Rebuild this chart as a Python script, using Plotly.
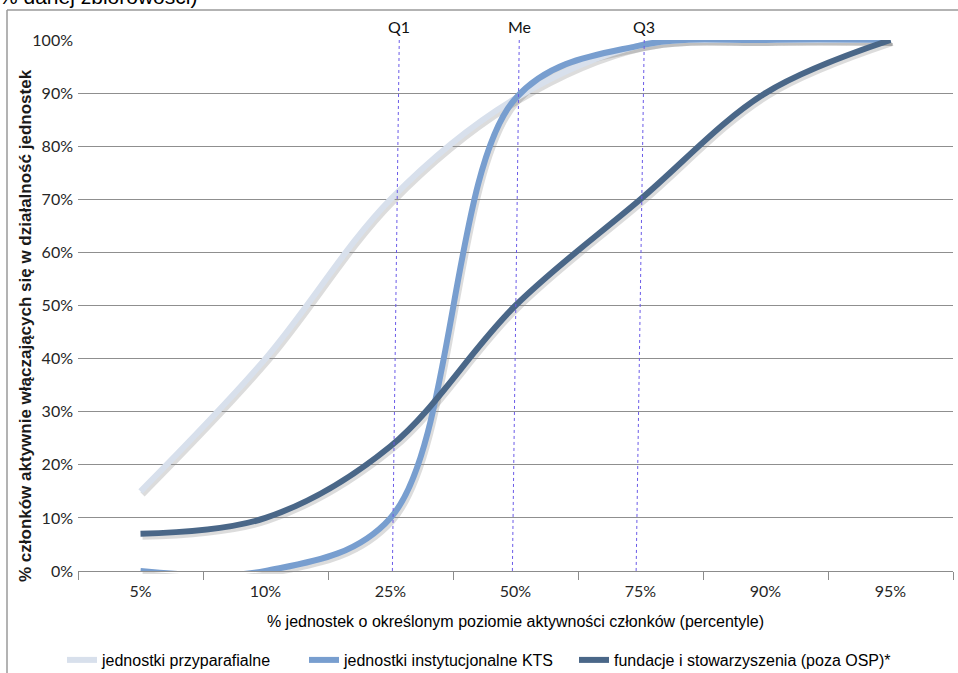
import plotly.graph_objects as go

# ---- data ----
categories = ["5%", "10%", "25%", "50%", "75%", "90%", "95%"]
przyparafialne = [15, 40, 70, 89, 99, 100, 100]
kts = [0, 0, 10, 89, 99, 100, 100]
fundacje = [7, 10, 23.5, 50, 70, 90, 100]
series_names = ["jednostki przyparafialne", "jednostki instytucjonalne KTS",
                "fundacje i stowarzyszenia (poza OSP)*"]
y_tick_values = [0, 10, 20, 30, 40, 50, 60, 70, 80, 90, 100]
y_tick_labels = ["0%", "10%", "20%", "30%", "40%", "50%", "60%", "70%", "80%",
                 "90%", "100%"]
quartile_labels = ["Q1", "Me", "Q3"]
quartile_top = [2.07, 3.03, 4.03]      # category-index position at 100%
quartile_bottom = [2.015, 2.975, 3.965]  # category-index position at 0%

colors = ["#d8e0ec", "#789ecf", "#4a6788"]
shadow_color = "rgba(60,60,60,0.18)"

W, H = 958, 673
ML, MR, MT, MB = 78, 3, 40, 99
PW = W - ML - MR   # 877
PH = H - MT - MB   # 534
DX, DY = 2, 3      # shadow offset in px


def px_x(px):
    return (px - ML) / PW


def px_y(py):
    return (H - MB - py) / PH


fig = go.Figure()
series = [przyparafialne, kts, fundacje]

# shadows (on offset invisible axes x/y)
for vals in series:
    fig.add_trace(go.Scatter(
        x=categories, y=vals, mode="lines", xaxis="x", yaxis="y",
        line=dict(color=shadow_color, width=6, shape="spline", smoothing=1),
        showlegend=False, hoverinfo="skip"))

# main lines (on visible axes x2/y2)
legends = ["legend", "legend2", "legend3"]
for vals, name, col, lg in zip(series, series_names, colors, legends):
    fig.add_trace(go.Scatter(
        x=categories, y=vals, mode="lines", name=name, xaxis="x2", yaxis="y2",
        line=dict(color=col, width=6, shape="spline", smoothing=1),
        legend=lg))

tick_font = dict(family="Lato, Open Sans, sans-serif", size=16, color="#262626")

fig.update_layout(
    width=W, height=H,
    margin=dict(l=ML, r=MR, t=MT, b=MB, autoexpand=False),
    paper_bgcolor="white", plot_bgcolor="rgba(0,0,0,0)",
    xaxis=dict(type="category", categoryorder="array", categoryarray=categories,
               range=[-0.5, 6.5], domain=[DX / PW, 1], visible=False,
               anchor="y", automargin=False),
    yaxis=dict(range=[0, 100], domain=[0, 1 - DY / PH], visible=False,
               anchor="x", automargin=False),
    xaxis2=dict(type="category", categoryorder="array", categoryarray=categories,
                range=[-0.5, 6.5], domain=[0, 1 - DX / PW], anchor="y2",
                showgrid=False, showline=True, linecolor="#8c8c8c", linewidth=1,
                ticks="outside", tickson="boundaries", ticklen=8,
                tickcolor="#8c8c8c", tickfont=tick_font, zeroline=False,
                ticklabelstandoff=6, automargin=False,
                title=dict(text="% jednostek o określonym poziomie aktywności członków (percentyle)",
                           font=dict(family="Liberation Sans, Arial, sans-serif",
                                     size=16, color="#000000"),
                           standoff=16)),
    yaxis2=dict(range=[0, 100], domain=[DY / PH, 1], anchor="x2",
                tickvals=y_tick_values, ticktext=y_tick_labels, showgrid=True,
                gridcolor="#8f8f8f", gridwidth=1, showline=False,
                zeroline=False, ticks="", tickfont=tick_font,
                ticklabelstandoff=4, automargin=False),
    font=dict(family="Liberation Sans, Arial, sans-serif", size=16, color="#000"),
)

# legends (one per series, placed individually, in container coordinates)
leg_common = dict(orientation="h", yanchor="middle", xanchor="left",
                  xref="container", yref="container",
                  bgcolor="rgba(0,0,0,0)",
                  font=dict(family="Liberation Sans, Arial, sans-serif", size=16,
                            color="#000"))
fig.update_layout(
    legend=dict(x=62 / W, y=1 - 660 / H, **leg_common),
    legend2=dict(x=304 / W, y=1 - 660 / H, **leg_common),
    legend3=dict(x=574 / W, y=1 - 660 / H, **leg_common),
)

shapes = []
annotations = []
for lab, xt, xb in zip(quartile_labels, quartile_top, quartile_bottom):
    shapes.append(dict(type="line", xref="x2", yref="y2", x0=xt, y0=100,
                       x1=xb, y1=0,
                       line=dict(color="#6a5ae8", width=1, dash="3px,3px")))
    annotations.append(dict(text=lab, xref="x2", yref="y2", x=xt, y=100,
                            yanchor="bottom", xanchor="center", showarrow=False,
                            yshift=2,
                            font=dict(family="Lato, Open Sans, sans-serif",
                                      size=16, color="#111")))

# outer frame lines (top and left)
shapes.append(dict(type="line", xref="paper", yref="paper",
                   x0=px_x(7), x1=px_x(960), y0=px_y(10), y1=px_y(10),
                   line=dict(color="#9a9a9a", width=1.5)))
shapes.append(dict(type="line", xref="paper", yref="paper",
                   x0=px_x(7), x1=px_x(7), y0=px_y(10), y1=px_y(675),
                   line=dict(color="#9a9a9a", width=1.5)))

# y-axis title
annotations.append(dict(
    text="% członków aktywnie włączających się w działalność jednostek",
    xref="paper", yref="paper", x=px_x(25), y=px_y(326), textangle=-90,
    showarrow=False, xanchor="center", yanchor="middle",
    font=dict(family="Liberation Sans, Arial, sans-serif", size=17,
              color="#1a1a1a", weight="bold")))

# clipped heading text at top
annotations.append(dict(
    text="% danej zbiorowości)", xref="paper", yref="paper",
    x=px_x(-3), y=px_y(10), xanchor="left", yanchor="bottom", showarrow=False,
    font=dict(family="Liberation Sans, Arial, sans-serif", size=21, color="#000")))

fig.update_layout(shapes=shapes, annotations=annotations)

fig.write_html(
    "out.html",
    config={"displayModeBar": False},
    post_script=("document.documentElement.style.margin='0';"
                 "document.body.style.margin='0';"
                 "document.body.style.overflow='hidden';"),
)
